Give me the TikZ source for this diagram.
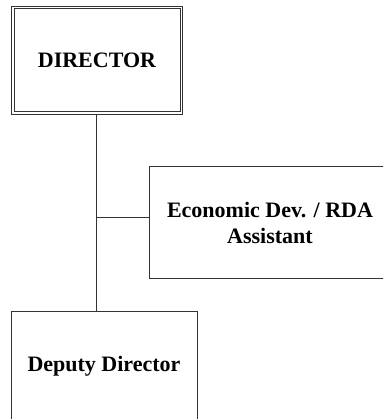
\documentclass[tikz,border=0pt]{standalone}
\usepackage{fontspec}
\setmainfont{Liberation Serif}
\usetikzlibrary{calc}
\begin{document}
\begin{tikzpicture}[x=1pt,y=1pt,
  box/.style={draw=black!80, line width=1pt, rectangle, fill=white, align=center,
    font=\fontsize{22}{26}\selectfont\bfseries, inner sep=0pt},
  link/.style={draw=black!80, line width=1pt}]
\clip (0,0) rectangle (383,-419);
\fill[white] (0,0) rectangle (383,-419);
\node[box, minimum width=171pt, minimum height=108pt] (dir) at (97,-60.5) {DIRECTOR};
\draw[link] ($(dir.south west)+(3,3)$) rectangle ($(dir.north east)-(3,3)$);
\node[box, minimum width=242pt, minimum height=111pt] (econ) at (270,-222.5) {Economic Dev. / RDA\\Assistant};
\node[box, minimum width=186pt, minimum height=110pt] (dep) at (104,-366) {Deputy Director};
\coordinate (j) at (96,-217);
\draw[link] (dir.south -| j) -- (dep.north -| j);
\draw[link] (j) -- (j -| econ.west);
\end{tikzpicture}
\end{document}
